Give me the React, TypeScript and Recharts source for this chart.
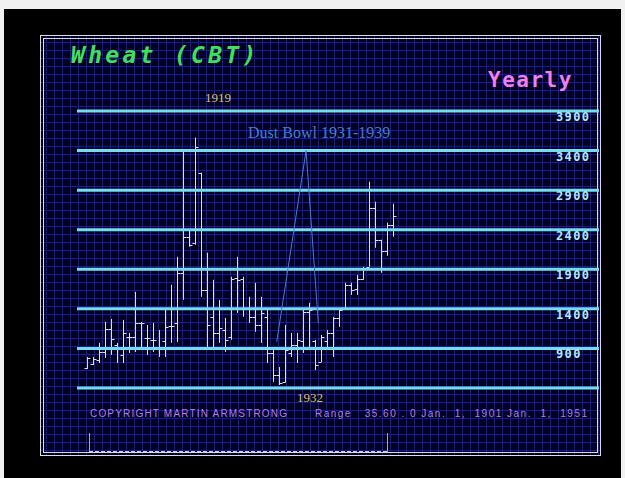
import { Bar, ComposedChart, ReferenceLine, XAxis, YAxis } from 'recharts'

// yearly wheat bars
const YEARS = [
  '1900', '1901', '1902', '1903', '1904', '1905', '1906', '1907', '1908', '1909',
  '1910', '1911', '1912', '1913', '1914', '1915', '1916', '1917', '1918', '1919',
  '1920', '1921', '1922', '1923', '1924', '1925', '1926', '1927', '1928', '1929',
  '1930', '1931', '1932', '1933', '1934', '1935', '1936', '1937', '1938', '1939',
  '1940', '1941', '1942', '1943', '1944', '1945', '1946', '1947', '1948', '1949',
  '1950', '1951',
]
const OPENS = [
  653, 700, 754, 856, 1147, 944, 818, 1046, 1046, 1223,
  1033, 1008, 906, 1000, 1185, 1223, 1856, 2311, 2235, 3121,
  1640, 1299, 1100, 1134, 1050, 1792, 1780, 1400, 1300, 1200,
  1300, 843, 565, 480, 843, 944, 1000, 1362, 1000, 729,
  1000, 1100, 1286, 1400, 1704, 1650, 1780, 1932, 2679, 2273,
  2134, 2464,
]
const HIGHS = [
  792, 792, 970, 1235, 1273, 970, 1261, 1096, 1615, 1235,
  1197, 1223, 1134, 1387, 1704, 2058, 3413, 2400, 3564, 3121,
  2109, 1767, 1514, 1286, 1805, 2058, 1805, 1552, 1729, 1552,
  1387, 881, 666, 1197, 1096, 1096, 1387, 1476, 1008, 1071,
  1134, 1299, 1387, 1729, 1729, 1830, 1932, 3008, 2754, 2273,
  2489, 2729,
]
const LOWS = [
  641, 691, 716, 780, 818, 716, 716, 843, 856, 881,
  818, 856, 792, 792, 970, 982, 1514, 2185, 2210, 1552,
  906, 881, 970, 856, 1008, 1349, 1299, 1223, 1109, 970,
  716, 476, 438, 470, 792, 716, 843, 881, 628, 729,
  881, 792, 1172, 1387, 1577, 1577, 1767, 1932, 2172, 1856,
  2071, 2311,
]
const CLOSES = [
  780, 770, 856, 1147, 1020, 906, 1100, 1046, 1223, 1223,
  1033, 1008, 906, 1172, 1185, 1856, 2311, 2210, 3451, 1640,
  1200, 1100, 1160, 1010, 1780, 1767, 1400, 1299, 1197, 1349,
  843, 565, 463, 881, 944, 1008, 1362, 1387, 691, 1046,
  1100, 1286, 1387, 1704, 1640, 1780, 1920, 2679, 2273, 2134,
  2464, 2577,
]

const LEVELS = [400, 900, 1400, 1900, 2400, 2900, 3400, 3900]

// Dust Bowl annotation (bar index, price)
const DUST_LEFT = { x: 31.5, y: 982 }
const DUST_PEAK = { x: 36.3, y: 3400 }
const DUST_RIGHT = { x: 38.3, y: 1223 }

const data = YEARS.map((year, i) => ({
  year,
  open: OPENS[i],
  high: HIGHS[i],
  low: LOWS[i],
  close: CLOSES[i],
}))

const PAD = { left: 7, right: 203 }

function OhlcBar(props: any) {
  const { x, y, width, height, payload } = props
  if (height == null || !payload) return null
  const span = payload.high - payload.low || 1
  const toY = (v: number) => y + ((payload.high - v) / span) * height
  const cx = Math.round(x + width / 2) + 0.5
  const oy = Math.round(toY(payload.open)) + 0.5
  const cy = Math.round(toY(payload.close)) + 0.5
  return (
    <g stroke="#dedede" strokeWidth={1}>
      <line x1={cx} x2={cx} y1={y} y2={y + height} />
      <line x1={cx - 3} x2={cx} y1={oy} y2={oy} />
      <line x1={cx} x2={cx + 3} y1={cy} y2={cy} />
    </g>
  )
}

// price label sitting just under each cyan level line
function LevelLabel({ viewBox, text }: any) {
  if (!viewBox || !text) return null
  return (
    <text
      x={556}
      y={viewBox.y + 10}
      fill="#aee8fb"
      fontFamily="'DejaVu Sans Mono', monospace"
      fontWeight="bold"
      fontSize={12}
      letterSpacing={1.4}
    >
      {text}
    </text>
  )
}

export default function App() {
  return (
    <div style={{ position: 'absolute', left: 0, top: 0, width: 625, height: 478, background: '#f1f1f1', overflow: 'hidden' }}>
      <div style={{ position: 'absolute', left: 4, top: 9, width: 617, height: 469, background: '#000' }} />
      <div
        style={{
          position: 'absolute',
          left: 40,
          top: 35,
          width: 561,
          height: 421,
          boxSizing: 'border-box',
          border: '4px double #dcdcdc',
          backgroundColor: '#000020',
          backgroundImage:
            'linear-gradient(to right, #18189a 1px, transparent 1px), linear-gradient(to bottom, #18189a 1px, transparent 1px)',
          backgroundSize: '8px 8px',
          backgroundPosition: '2px 3px',
        }}
      />
      <div style={{ position: 'absolute', left: 0, top: 0 }}>
        <ComposedChart width={625} height={478} data={data} margin={{ top: 111, right: 26, bottom: 90, left: 77 }}>
          <XAxis dataKey="year" hide padding={PAD} />
          <XAxis xAxisId="n" type="number" domain={[-0.5, 51.5]} allowDataOverflow hide padding={PAD} />
          <YAxis type="number" domain={[400, 3900]} hide />
          {LEVELS.map((v) => (
            <ReferenceLine
              key={v}
              y={v}
              stroke="#74dcef"
              strokeWidth={3}
              label={<LevelLabel text={v > 400 ? String(v) : ''} />}
            />
          ))}
          <ReferenceLine xAxisId="n" segment={[DUST_LEFT, DUST_PEAK]} stroke="#3f7fd8" strokeWidth={1} ifOverflow="visible" />
          <ReferenceLine xAxisId="n" segment={[DUST_PEAK, DUST_RIGHT]} stroke="#3f7fd8" strokeWidth={1} ifOverflow="visible" />
          <Bar dataKey={(d: any) => [d.low, d.high]} barSize={6} shape={<OhlcBar />} isAnimationActive={false} />
        </ComposedChart>
      </div>
      <svg width={625} height={478} style={{ position: 'absolute', left: 0, top: 0, pointerEvents: 'none' }}>
        <text
          x={71}
          y={63}
          fill="#3fe05a"
          fontFamily="'DejaVu Sans Mono', monospace"
          fontWeight="bold"
          fontStyle="italic"
          fontSize={23}
          letterSpacing={3.3}
        >
          Wheat (CBT)
        </text>
        <text
          x={488}
          y={87}
          fill="#f27ef0"
          fontFamily="'DejaVu Sans Mono', monospace"
          fontWeight="bold"
          fontSize={21}
          letterSpacing={1.5}
        >
          Yearly
        </text>
        <text x={205} y={102} fill="#d9c55e" fontFamily="'Liberation Serif', serif" fontSize={13}>
          1919
        </text>
        <text x={248} y={138} fill="#3f7fd8" fontFamily="'Liberation Serif', serif" fontSize={16}>
          Dust Bowl 1931-1939
        </text>
        <text x={297} y={402} fill="#d9c55e" fontFamily="'Liberation Serif', serif" fontSize={13}>
          1932
        </text>
        <text x={90} y={417} fill="#b57be8" fontFamily="'Liberation Sans', sans-serif" fontSize={10} textLength={197} lengthAdjust="spacing">
          COPYRIGHT MARTIN ARMSTRONG
        </text>
        <text
          x={315}
          y={417}
          fill="#b57be8"
          fontFamily="'Liberation Sans', sans-serif"
          fontSize={10}
          textLength={272}
          lengthAdjust="spacing"
          style={{ whiteSpace: 'pre' }}
        >
          {'Range   35.60 . 0 Jan.  1,  1901 Jan.  1,  1951'}
        </text>
        <line x1={89.5} x2={89.5} y1={433} y2={452} stroke="#a8a8a8" strokeWidth={1} />
        <line x1={387.5} x2={387.5} y1={433} y2={452} stroke="#a8a8a8" strokeWidth={1} />
        <line x1={89} x2={388} y1={451.5} y2={451.5} stroke="#cfcfcf" strokeWidth={1} strokeDasharray="4 2" />
      </svg>
    </div>
  )
}
